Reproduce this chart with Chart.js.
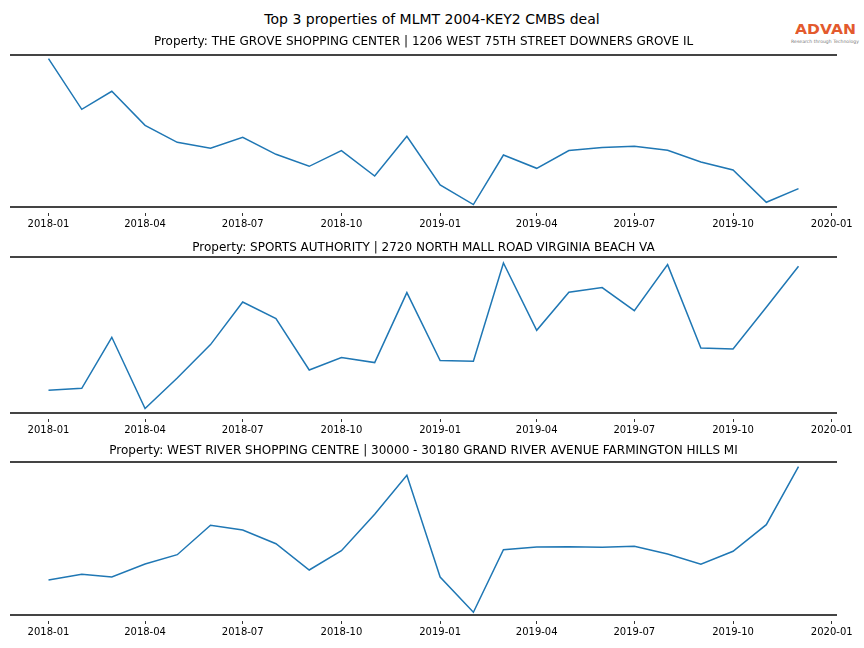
<!DOCTYPE html>
<html lang="en">
<head>
    <meta charset="UTF-8">
    <title>Top 3 properties of MLMT 2004-KEY2 CMBS deal</title>
    <script src="https://cdn.jsdelivr.net/npm/chart.js"></script>
    <style>
        body {
            margin: 0;
            width: 864px;
            height: 648px;
            position: relative;
            overflow: hidden;
            background: #fff;
            font-family: "DejaVu Sans", sans-serif;
        }
        #suptitle {
            position: absolute;
            top: 10px;
            left: 0;
            width: 864px;
            text-align: center;
            font-size: 14px;
            line-height: 18px;
            color: #000;
        }
        #logo {
            position: absolute;
            top: 19px;
            left: 789px;
            width: 72px;
            text-align: center;
        }
        #logo .brand {
            display: inline-block;
            font-size: 13.5px;
            line-height: 15px;
            font-weight: bold;
            color: #e35a2e;
            transform: scaleX(1.15);
        }
        #logo .tag {
            margin-top: 1px;
            font-size: 4.6px;
            line-height: 6px;
            color: #777;
            white-space: nowrap;
        }
        canvas {
            position: absolute;
            left: 0;
        }
    </style>
</head>
<body>
    <div id="suptitle">Top 3 properties of MLMT 2004-KEY2 CMBS deal</div>
    <div id="logo">
        <div class="brand">ADVAN</div>
        <div class="tag">Research through Technology</div>
    </div>

    <canvas id="chart0" width="864" height="207" style="top:30px"></canvas>
    <canvas id="chart1" width="864" height="211" style="top:232px"></canvas>
    <canvas id="chart2" width="864" height="208" style="top:437px"></canvas>

    <script>
        // monthly observations
        const months = [
            '2018-01', '2018-02', '2018-03', '2018-04', '2018-05', '2018-06',
            '2018-07', '2018-08', '2018-09', '2018-10', '2018-11', '2018-12',
            '2019-01', '2019-02', '2019-03', '2019-04', '2019-05', '2019-06',
            '2019-07', '2019-08', '2019-09', '2019-10', '2019-11', '2019-12'
        ];
        const tickLabels = ['2018-01', '2018-04', '2018-07', '2018-10', '2019-01', '2019-04', '2019-07', '2019-10', '2020-01'];

        const propertyNames = [
            'Property: THE GROVE SHOPPING CENTER | 1206 WEST 75TH STREET DOWNERS GROVE IL',
            'Property: SPORTS AUTHORITY | 2720 NORTH MALL ROAD VIRGINIA BEACH VA',
            'Property: WEST RIVER SHOPPING CENTRE | 30000 - 30180 GRAND RIVER AVENUE FARMINGTON HILLS MI'
        ];

        // values (no y axis is shown, so units are relative)
        const groveValues = [148.4, 97.7, 115.7, 81.7, 64.7, 58.7, 69.7, 52.7, 40.7, 56.4, 31.0, 70.7,
                             22.0, 2.4, 52.0, 38.7, 56.4, 59.4, 60.7, 56.7, 45.0, 37.0, 4.7, 18.4];
        const sportsValues = [22.7, 24.7, 75.7, 4.4, 35.0, 68.4, 111.0, 94.4, 43.0, 55.4, 50.4, 120.4,
                              52.4, 51.7, 150.0, 82.7, 120.7, 125.4, 102.4, 148.4, 65.0, 64.0, 105.7, 146.7];
        const westRiverValues = [35.0, 40.7, 38.0, 51.0, 60.3, 89.7, 85.0, 71.3, 45.0, 64.3, 100.7, 139.7,
                                 38.0, 2.7, 65.3, 68.0, 68.3, 67.7, 68.7, 61.0, 50.7, 63.7, 90.3, 148.3];
        const seriesList = [groveValues, sportsValues, westRiverValues];
        const yMax = [152, 156, 153];

        // panel geometry: plot height and gap between property title and top line
        const areaHeights = [152, 156, 153];
        const titleGaps = [5.8, 2.3, 3.8];

        const FONT = '"DejaVu Sans", sans-serif';
        const DAY = 86400000;
        const origin = Date.UTC(2018, 0, 1);

        function dayOffset(label) {
            const [y, m] = label.split('-').map(Number);
            return (Date.UTC(y, m - 1, 1) - origin) / DAY;
        }

        const xs = months.map(dayOffset);
        const span = xs[xs.length - 1] - xs[0];
        const xMin = xs[0] - span * 0.05;
        const xMax = xs[xs.length - 1] + span * 0.05;
        const tickValues = tickLabels.map(dayOffset);

        function makeChart(i) {
            const ctx = document.getElementById('chart' + i).getContext('2d');
            return new Chart(ctx, {
                type: 'line',
                data: {
                    datasets: [{
                        data: seriesList[i].map((v, k) => ({ x: xs[k], y: v })),
                        borderColor: '#1f77b4',
                        borderWidth: 1.5,
                        pointRadius: 0,
                        fill: false,
                        tension: 0
                    }]
                },
                options: {
                    responsive: false,
                    animation: false,
                    layout: { padding: { left: 11, right: 28, top: 0, bottom: 0 } },
                    plugins: {
                        legend: { display: false },
                        tooltip: { enabled: false },
                        title: {
                            display: true,
                            text: propertyNames[i],
                            color: '#000',
                            font: { family: FONT, size: 12, weight: 'normal' },
                            padding: { top: 25 - 14.4 - titleGaps[i], bottom: titleGaps[i] }
                        }
                    },
                    scales: {
                        x: {
                            type: 'linear',
                            position: 'bottom',
                            min: xMin,
                            max: xMax,
                            afterBuildTicks: scale => {
                                scale.ticks = tickValues.map(v => ({ value: v }));
                            },
                            afterFit: scale => { scale.height = 30; },
                            ticks: {
                                color: '#000',
                                font: { family: FONT, size: 10 },
                                padding: 2,
                                maxRotation: 0,
                                autoSkip: false,
                                callback: (value, index) => tickLabels[index]
                            },
                            grid: {
                                display: true,
                                drawOnChartArea: false,
                                drawTicks: true,
                                tickLength: 9,
                                tickColor: '#333',
                                tickWidth: 1,
                                tickBorderDash: [0, 5, 4, 40]
                            },
                            border: { display: true, color: '#444', width: 2 }
                        },
                        x2: {
                            type: 'linear',
                            position: 'top',
                            min: xMin,
                            max: xMax,
                            afterFit: scale => { scale.height = 0; },
                            ticks: { display: false },
                            grid: { display: false },
                            border: { display: true, color: '#444', width: 2 }
                        },
                        y: {
                            display: false,
                            min: 0,
                            max: yMax[i]
                        }
                    }
                }
            });
        }

        [0, 1, 2].forEach(makeChart);
    </script>
</body>
</html>
